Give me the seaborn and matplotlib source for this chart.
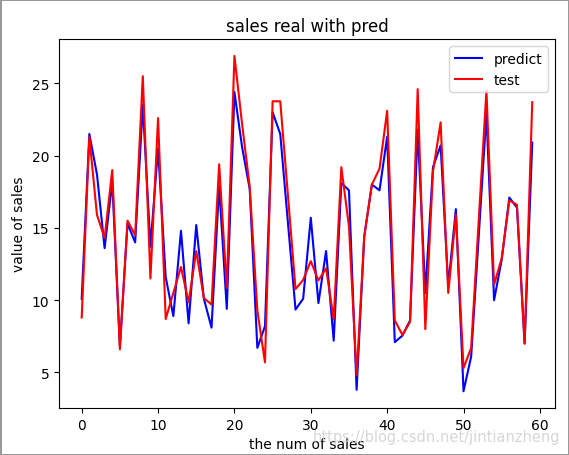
import matplotlib
matplotlib.use("Agg")
import matplotlib.pyplot as plt
import seaborn as sns
import pandas as pd

# values
idx = list(range(60))
predict = [10.1, 21.5, 18.7, 13.6, 18.2, 6.8, 15.3, 14.0, 23.5, 13.7,
           20.5, 11.6, 8.9, 14.8, 8.4, 15.2, 10.1, 8.1, 17.9, 9.4,
           24.4, 20.6, 17.7, 6.7, 8.2, 23.0, 21.5, 15.4, 9.35, 10.1,
           15.7, 9.8, 13.4, 7.2, 18.1, 17.6, 3.8, 14.4, 18.0, 17.6,
           21.3, 7.1, 7.55, 8.6, 21.8, 10.5, 19.2, 20.7, 11.0, 16.3,
           3.7, 6.1, 14.5, 22.9, 10.0, 12.8, 17.1, 16.4, 7.0, 20.9]
test = [8.8, 21.3, 15.9, 14.3, 19.0, 6.6, 15.5, 14.5, 25.5, 11.5,
        22.6, 8.7, 10.5, 12.3, 9.85, 13.4, 10.15, 9.7, 19.4, 10.85,
        26.9, 22.2, 17.85, 9.3, 5.7, 23.76, 23.76, 17.3, 10.77, 11.4,
        12.7, 11.37, 12.2, 8.7, 19.2, 15.1, 4.8, 14.4, 18.0, 19.1,
        23.1, 8.6, 7.6, 8.5, 24.6, 8.0, 18.9, 22.3, 10.5, 15.9,
        5.3, 6.7, 15.6, 24.5, 11.07, 12.9, 16.9, 16.6, 7.0, 23.7]

df = pd.DataFrame({"x": idx * 2,
                   "y": predict + test,
                   "kind": ["predict"] * 60 + ["test"] * 60})

fig = plt.figure(figsize=(5.69, 4.56), dpi=100, edgecolor="#999999", linewidth=2)
ax = fig.add_axes([0.104, 0.103, 0.871, 0.809])
sns.lineplot(data=df, x="x", y="y", hue="kind",
             palette={"predict": "blue", "test": "red"}, linewidth=1.5, ax=ax)
ax.legend(loc="upper right")
ax.set_title("sales real with pred")
ax.set_xlabel("the num of sales")
ax.set_ylabel("value of sales")
ax.set_xticks([0, 10, 20, 30, 40, 50, 60])

# blog watermark, as in the screenshot
fig.text(0.984, 0.04, "https://blog.csdn.net/jintianzheng", ha="right", va="center",
         fontsize=10.5, color="#d0d0d0", alpha=0.85)

fig.savefig("out.png", dpi=100, edgecolor=fig.get_edgecolor())
